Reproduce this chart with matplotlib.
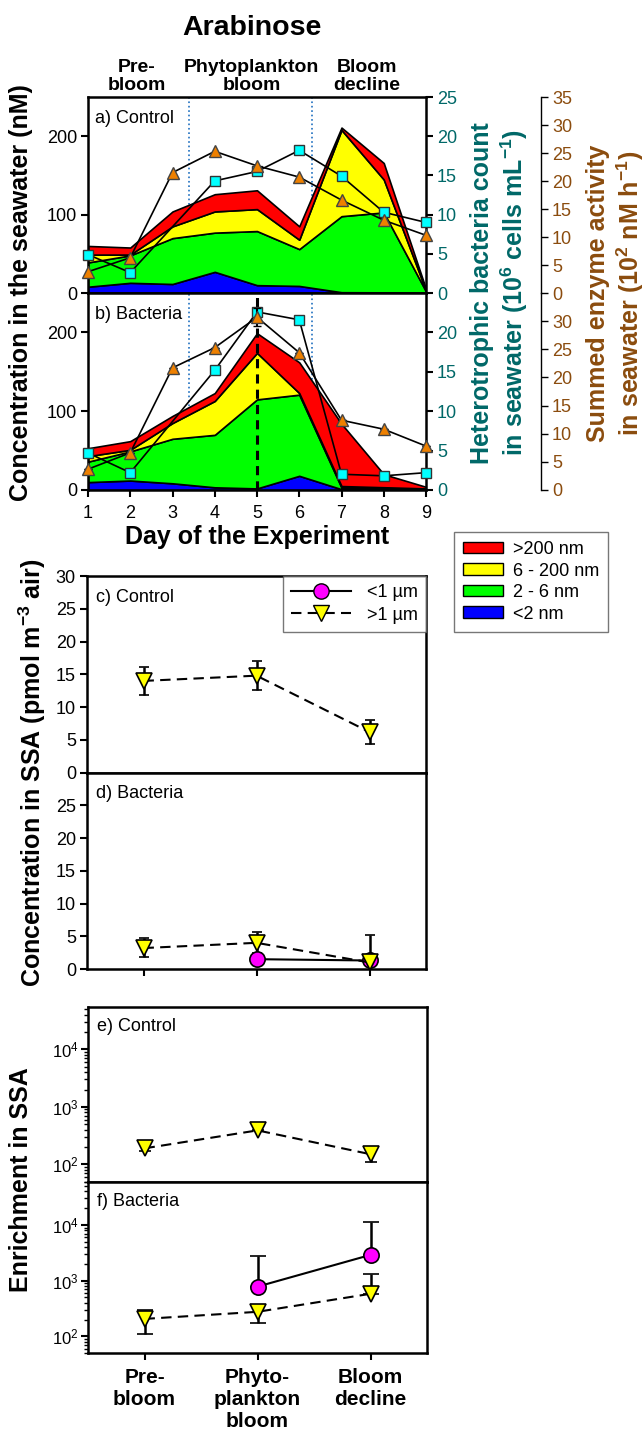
import numpy as np
import matplotlib.pyplot as plt
from matplotlib.lines import Line2D
from matplotlib.patches import Patch

plt.rcParams['font.family'] = ['Liberation Sans', 'DejaVu Sans']
plt.rcParams['mathtext.fontset'] = 'custom'
plt.rcParams['mathtext.rm'] = 'Liberation Sans'
plt.rcParams['mathtext.bf'] = 'Liberation Sans:bold'
plt.rcParams['mathtext.it'] = 'Liberation Sans:italic'

TEAL = '#006868'
BROWN = '#8B4C0E'
SIZE_COLORS = ['#0000FF', '#00FF00', '#FFFF00', '#FF0000']

# seawater, days of experiment
days = np.arange(1, 10)

# a) control - arabinose per size class (nM)
ctrl_lt2 = [8, 13, 11.5, 27, 10, 9, 1, 0.8, 0.3]
ctrl_2_6 = [31, 35, 58.5, 50, 69, 47, 97, 102, 1.7]
ctrl_6_200 = [10, 1, 15, 27, 28, 12, 110, 42, 1]
ctrl_gt200 = [11, 9, 19, 22, 24, 17, 3, 21, 2]
ctrl_bact = [4.9, 2.6, np.nan, 14.3, 15.5, 18.2, 14.9, 10.3, 9.0]
ctrl_enz = [3.8, 6.3, 21.5, 25.3, 22.7, 20.7, 16.6, 13.0, 10.3]

# b) bacteria
bact_lt2 = [10, 12, 8.5, 3.4, 2, 18, 1, 0.5, 0.5]
bact_2_6 = [26, 37, 56.5, 66.6, 113, 103, 2, 1.5, 0.5]
bact_6_200 = [7, 2, 20, 43, 59, 2, 2, 1.5, 1]
bact_gt200 = [10, 11, 9, 10, 25, 39, 79, 16.5, 2]
bact_bact = [4.7, 2.2, np.nan, 15.2, 22.6, 21.6, 2.0, 1.8, 2.2]
bact_enz = [3.7, 6.6, 21.7, 25.3, 30.7, 24.4, 12.4, 10.8, 7.8]
bact_enz_err = [0, 0, 0, 0, 1.6, 0, 0, 0, 0]

size_labels = ['>200 nm', '6 - 200 nm', '2 - 6 nm', '<2 nm']

# SSA, bloom phases
phases = ['Pre-\nbloom', 'Phyto-\nplankton\nbloom', 'Bloom\ndecline']
phase_x = np.array([1, 2, 3])

# c) control, concentration in SSA (pmol m-3 air)
c_coarse = [14.0, 14.8, 6.2]
c_coarse_err = [2.1, 2.2, 1.8]
# d) bacteria
d_fine = [np.nan, 1.5, 1.3]
d_coarse = [3.2, 4.0, 1.0]
d_coarse_lo = [1.3, 1.6, 0]
d_coarse_hi = [1.5, 1.6, 4.2]

# e) control, enrichment in SSA
e_coarse = [190, 390, 150]
e_coarse_lo = [20, 0, 38]
e_coarse_hi = [32, 90, 40]
# f) bacteria
f_fine = [np.nan, 780, 2900]
f_fine_hi = [0, 1950, 8300]
f_coarse = [205, 275, 580]
f_coarse_lo = [93, 105, 0]
f_coarse_hi = [88, 85, 730]

fig = plt.figure(figsize=(6.44, 14.38), dpi=100)


def add_ax(l, t, r, b):
    return fig.add_axes([l / 644, 1 - b / 1438, (r - l) / 644, (b - t) / 1438])


def frame(ax):
    for s in ax.spines.values():
        s.set_linewidth(1.8)


def seawater_panel(ax, fracs, bact, enz, enz_err, label, top, bottom):
    frame(ax)
    ax.stackplot(days, *fracs, colors=SIZE_COLORS, edgecolor='k', linewidth=1.2)
    for xv in (3.4, 6.3):
        ax.axvline(xv, color='#1f70c0', ls=':', lw=1.2, zorder=0.5)
    ax.set_xlim(1, 9)
    ax.set_ylim(0, 250)
    ax.set_yticks([0, 100, 200])
    ax.tick_params(axis='y', direction='out', length=5, width=1.5, labelsize=13, pad=3)
    ax.text(0.022, 0.935, label, transform=ax.transAxes, fontsize=13, va='top')

    tb = ax.twinx()
    for s in tb.spines.values():
        s.set_visible(False)
    tb.set_ylim(0, 25)
    tb.set_yticks(range(0, top[0] + 1, 5))
    tb.tick_params(axis='y', direction='out', length=5, width=1.5, labelsize=13,
                   labelcolor=TEAL, pad=3)
    bact = np.array(bact)
    m = ~np.isnan(bact)
    tb.plot(days[m], bact[m], color='k', lw=1.2, marker='s', ms=7.5,
            mfc='#00FFFF', mec='#333333', mew=1, clip_on=False)

    te = ax.twinx()
    for s in te.spines.values():
        s.set_visible(False)
    te.spines['right'].set_visible(True)
    te.spines['right'].set_position(('axes', 1.34))
    te.spines['right'].set_linewidth(1.0)
    te.set_ylim(0, 35)
    te.set_yticks(range(0, top[1] + 1, 5))
    te.tick_params(axis='y', direction='out', length=5, width=1, labelsize=13,
                   labelcolor=BROWN, pad=3)
    te.errorbar(days, enz, yerr=enz_err, color='k', lw=1.2, marker='^', ms=8,
                mfc='#EE8000', mec='#444444', mew=1, ecolor='k', elinewidth=1.5,
                capsize=3, capthick=1.5, clip_on=False)

    if bottom:
        ax.set_xticks(days)
        ax.tick_params(axis='x', direction='out', length=5, width=1.5, labelsize=13, pad=6)
        ax.set_xlabel('Day of the Experiment', fontsize=18, fontweight='bold', labelpad=2)
    else:
        ax.tick_params(axis='x', bottom=False, labelbottom=False)
    return ax


ax_a = add_ax(88, 97, 426, 293)
ax_b = add_ax(88, 293, 426, 490)
seawater_panel(ax_a, [ctrl_lt2, ctrl_2_6, ctrl_6_200, ctrl_gt200], ctrl_bact, ctrl_enz,
               None, 'a) Control', (25, 35), False)
seawater_panel(ax_b, [bact_lt2, bact_2_6, bact_6_200, bact_gt200], bact_bact, bact_enz,
               bact_enz_err, 'b) Bacteria', (20, 30), True)
ax_b.axvline(5, color='k', ls=(0, (3, 2)), lw=2.2, zorder=3)

# phase names on top
for xf, txt in zip([0.145, 0.485, 0.826], ['Pre-\nbloom', 'Phytoplankton\nbloom', 'Bloom\ndecline']):
    ax_a.text(xf, 1 + 38 / 196, txt, transform=ax_a.transAxes, ha='center', va='top',
              fontsize=14, fontweight='bold', linespacing=1.1)

fig.text(252 / 644, 1 - 35 / 1438, 'Arabinose', ha='center', va='baseline',
         fontsize=20.5, fontweight='bold')
fig.text(21 / 644, 1 - 293 / 1438, 'Concentration in the seawater (nM)', rotation=90,
         ha='center', va='center', fontsize=18, fontweight='bold')
fig.text(500 / 644, 1 - 293 / 1438,
         'Heterotrophic bacteria count\nin seawater (10$^{\\mathbf{6}}$ cells mL$^{\\mathbf{-1}}$)',
         rotation=90, ha='center', va='center', fontsize=18, fontweight='bold',
         color=TEAL, linespacing=1.15)
fig.text(616 / 644, 1 - 293 / 1438,
         'Summed enzyme activity\nin seawater (10$^{\\mathbf{2}}$ nM h$^{\\mathbf{-1}}$)',
         rotation=90, ha='center', va='center', fontsize=18, fontweight='bold',
         color=BROWN, linespacing=1.15)

size_handles = [Patch(facecolor=c, edgecolor='k', lw=1) for c in SIZE_COLORS[::-1]]
leg = fig.legend(size_handles, size_labels, loc='upper left',
                 bbox_to_anchor=(445 / 644, 1 - 523 / 1438), fontsize=13,
                 handlelength=2.2, handleheight=0.6, handletextpad=0.55,
                 labelspacing=0.25, borderpad=0.5, fancybox=False)
leg.get_frame().set_edgecolor('#555555')
leg.get_frame().set_linewidth(1.0)

TRI = dict(color='k', marker='v', ms=11, mfc='#FFFF00', mec='k', mew=1.2,
           ecolor='k', lw=1.5, ls=(0, (5, 3)))
CIRC = dict(color='k', marker='o', ms=11, mfc='#FF00FF', mec='k', mew=1.2,
            ecolor='k', lw=1.5, ls='-')


def ssa_frame(ax, label, bottom_ticks, labels=False):
    frame(ax)
    ax.set_xlim(0.5, 3.5)
    ax.set_xticks(phase_x)
    ax.text(0.028, 0.935, label, transform=ax.transAxes, fontsize=13, va='top')
    if bottom_ticks:
        ax.tick_params(axis='x', direction='out', length=5, width=1.5, pad=6)
        if labels:
            ax.set_xticklabels(phases, fontsize=15, fontweight='bold', linespacing=1.2)
        else:
            ax.tick_params(axis='x', labelbottom=False)
    else:
        ax.tick_params(axis='x', bottom=False, labelbottom=False)


ax_c = add_ax(87, 576, 426, 772.7)
ax_d = add_ax(87, 772.7, 426, 969)
for ax, lab, top in ((ax_c, 'c) Control', 30), (ax_d, 'd) Bacteria', 25)):
    ssa_frame(ax, lab, ax is ax_d)
    ax.set_ylim(0, 30)
    ax.set_yticks(range(0, top + 1, 5))
    ax.tick_params(axis='y', direction='out', length=5, width=1.5, labelsize=13, pad=3)

ax_c.errorbar(phase_x, c_coarse, yerr=c_coarse_err, elinewidth=1.8, capsize=3.5,
              capthick=1.8, **TRI)
fine_d = np.array(d_fine)
m = ~np.isnan(fine_d)
ax_d.errorbar(phase_x[m], fine_d[m], clip_on=False, **CIRC)
ax_d.errorbar(phase_x, d_coarse, yerr=[d_coarse_lo, d_coarse_hi], elinewidth=1.8,
              capsize=3.5, capthick=1.8, clip_on=False, **TRI)

ssa_leg = ax_c.legend([Line2D([], [], color='k', lw=1.5, marker='o', ms=11, mfc='#FF00FF', mec='k'),
                       Line2D([], [], color='k', lw=1.5, ls=(0, (5, 3)), marker='v', ms=11,
                              mfc='#FFFF00', mec='k')],
                      ['<1 µm', '>1 µm'], loc='upper right', bbox_to_anchor=(1, 1),
                      borderaxespad=0, fontsize=13, handlelength=3.3, handletextpad=0.9,
                      labelspacing=0.3, borderpad=0.45, fancybox=False)
ssa_leg.get_frame().set_edgecolor('#555555')
ssa_leg.get_frame().set_linewidth(1.0)

fig.text(32 / 644, 1 - 772.7 / 1438, 'Concentration in SSA (pmol m$^{\\mathbf{-3}}$ air)',
         rotation=90, ha='center', va='center', fontsize=18, fontweight='bold')

ax_e = add_ax(88, 1006.7, 427, 1181.7)
ax_f = add_ax(88, 1181.7, 427, 1353)
for ax, lab, ylim in ((ax_e, 'e) Control', (50, 55000)), (ax_f, 'f) Bacteria', (50, 60000))):
    ssa_frame(ax, lab, ax is ax_f, labels=True)
    ax.set_yscale('log')
    ax.set_ylim(*ylim)
    ax.tick_params(axis='y', which='major', direction='out', length=5, width=1.5,
                   labelsize=12, pad=2)
    ax.tick_params(axis='y', which='minor', direction='out', length=3, width=1)

ax_e.errorbar(phase_x, e_coarse, yerr=[e_coarse_lo, e_coarse_hi], elinewidth=1.8,
              capsize=4.5, capthick=1.8, **TRI)
fine_f = np.array(f_fine)
m = ~np.isnan(fine_f)
ax_f.errorbar(phase_x[m], fine_f[m], yerr=[np.zeros(m.sum()), np.array(f_fine_hi)[m]],
              elinewidth=1.8, capsize=5.5, capthick=1.8, **CIRC)
ax_f.errorbar(phase_x, f_coarse, yerr=[f_coarse_lo, f_coarse_hi], elinewidth=1.8,
              capsize=5.5, capthick=1.8, **TRI)

fig.text(21 / 644, 1 - 1180 / 1438, 'Enrichment in SSA', rotation=90,
         ha='center', va='center', fontsize=18, fontweight='bold')

fig.savefig('out.png', dpi=100)
